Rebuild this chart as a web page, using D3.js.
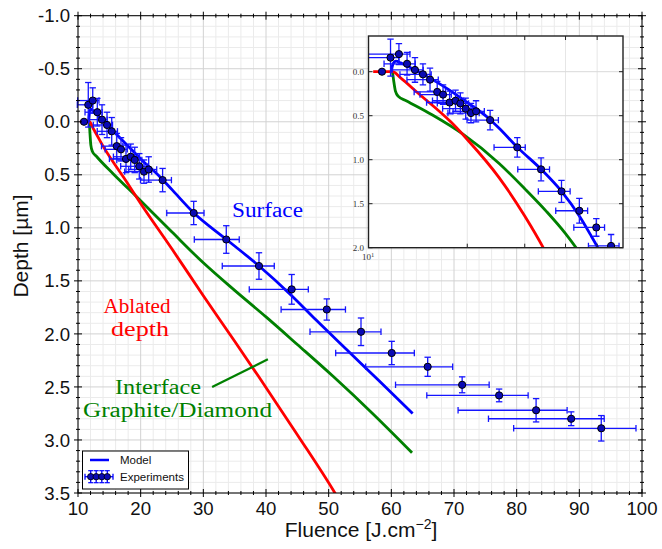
<!DOCTYPE html>
<html>
<head>
<meta charset="utf-8">
<script src="https://cdn.jsdelivr.net/npm/d3@7/dist/d3.min.js"></script>
<style>
  body { margin: 0; background: #fff; }
  svg { display: block; }
</style>
</head>
<body>
<svg id="chart" width="662" height="549"></svg>
<script>
// ---- Experimental points: fluence [J/cm2], depth [um] and their uncertainties ----
const fluence = [10.96, 11.64, 12.35, 13.08, 13.83, 14.63, 15.38, 16.18, 16.86, 17.66,
                 18.41, 19.05, 19.78, 20.53, 21.28, 23.5, 28.46, 33.66, 38.88, 44.1,
                 49.7, 55.16, 60.06, 65.8, 71.3, 77.2, 83.1, 88.7, 93.5];
const depth = [0.0, -0.16, -0.20, -0.09, -0.02, 0.03, 0.09, 0.23, 0.26, 0.35,
               0.33, 0.36, 0.42, 0.47, 0.45, 0.55, 0.86, 1.11, 1.36, 1.58,
               1.77, 1.98, 2.18, 2.31, 2.48, 2.58, 2.72, 2.80, 2.89];
const depthErr = [0, 0.21, 0.12, 0.13, 0.14, 0.12, 0.13, 0.12, 0.11, 0.13,
                  0.12, 0.12, 0.12, 0.11, 0.12, 0.11, 0.11, 0.13, 0.125, 0.14,
                  0.10, 0.13, 0.11, 0.09, 0.075, 0.06, 0.11, 0.065, 0.12];
const fluenceErrLow = [0, 1.75, 2.4, 1.96, 2.07, 2.19, 2.31, 2.43, 2.53, 2.65,
                       2.76, 2.86, 2.97, 3.08, 3.19, 3.53, 4.3, 5.1, 5.86, 6.77,
                       7.29, 8.14, 8.94, 9.89, 10.63, 11.54, 12.45, 13.2, 13.98];
const fluenceErrHigh = [0, 0.70, 1.0, 0.78, 0.83, 0.88, 0.92, 0.97, 1.01, 1.06,
                        1.10, 1.14, 1.19, 1.23, 1.28, 1.41, 1.65, 2.07, 2.44, 2.65,
                        2.98, 3.19, 3.61, 3.99, 4.31, 4.63, 4.95, 5.27, 5.54];

// ---- Model curves, sampled as [fluence, depth] ----
const surfaceModel = [[11.7, 0.0], [11.8, -0.07], [11.95, -0.11], [12.1, -0.12], [12.5, -0.10],
                      [13.5, -0.04], [15, 0.05], [17.5, 0.20], [20, 0.35], [23.1, 0.52],
                      [25, 0.64], [28.5, 0.86], [33.7, 1.11], [38.9, 1.36], [44.1, 1.64],
                      [48, 1.87], [52.9, 2.15], [58, 2.44], [63.4, 2.75]];
const ablatedModel = [[10.3, 0.0], [11.0, 0.0], [11.8, 0.0], [12.5, 0.07], [14, 0.23],
                      [17.8, 0.57], [20, 0.77], [25, 1.2], [30, 1.64], [35, 2.07],
                      [38.8, 2.40], [45, 2.95], [51, 3.5], [52, 3.6]];
const interfaceModel = [[11.8, 0.0], [11.9, 0.10], [12.05, 0.22], [12.3, 0.28], [13, 0.33],
                        [15.6, 0.49], [19.4, 0.71], [25, 1.04], [30, 1.33], [35, 1.59],
                        [40, 1.84], [45, 2.10], [50.7, 2.40], [57, 2.75], [63.3, 3.12]];

// ---- Axis ticks and labels ----
const xTicks = [10, 20, 30, 40, 50, 60, 70, 80, 90, 100];
const xTickLabels = ["10", "20", "30", "40", "50", "60", "70", "80", "90", "100"];
const yTicks = [-1, -0.5, 0, 0.5, 1, 1.5, 2, 2.5, 3, 3.5];
const yTickLabels = ["-1.0", "-0.5", "0.0", "0.5", "1.0", "1.5", "2.0", "2.5", "3.0", "3.5"];
const insetXTicks = [20, 30, 40, 50];
const insetYTicks = [0, 0.5, 1, 1.5, 2];
const insetYTickLabels = ["0.0", "0.5", "1.0", "1.5", "2.0"];

const BLUE = "#0000ff", RED = "#ff0000", GREEN = "#008000";
const SANS = "'Liberation Sans', Arial, Helvetica, sans-serif";
const SERIF = "'Liberation Serif', 'Times New Roman', serif";

const svg = d3.select("#chart");
const P = { left: 78, right: 642, top: 15.7, bottom: 493 };
const x = d3.scaleLinear().domain([10, 100]).range([P.left, P.right]);
const y = d3.scaleLinear().domain([-1, 3.5]).range([P.top, P.bottom]);

const points = fluence.map((f, i) => ({
  f, d: depth[i], de: depthErr[i], lo: fluenceErrLow[i], hi: fluenceErrHigh[i]
}));

// ---- Main grid ----
const grid = svg.append("g");
grid.selectAll("line.vmin").data(d3.range(12, 100, 2).filter(v => v % 10 !== 0)).join("line")
  .attr("x1", d => x(d)).attr("x2", d => x(d)).attr("y1", P.top).attr("y2", P.bottom)
  .attr("stroke", "#ebebeb").attr("stroke-width", 1);
grid.selectAll("line.hmin").data(d3.range(-10, 36, 1).filter(v => v % 5 !== 0).map(v => v / 10)).join("line")
  .attr("x1", P.left).attr("x2", P.right).attr("y1", d => y(d)).attr("y2", d => y(d))
  .attr("stroke", "#ebebeb").attr("stroke-width", 1);
grid.selectAll("line.vmaj").data(xTicks).join("line")
  .attr("x1", d => x(d)).attr("x2", d => x(d)).attr("y1", P.top).attr("y2", P.bottom)
  .attr("stroke", "#d2d2d2").attr("stroke-width", 1);
grid.selectAll("line.hmaj").data(yTicks).join("line")
  .attr("x1", P.left).attr("x2", P.right).attr("y1", d => y(d)).attr("y2", d => y(d))
  .attr("stroke", "#d2d2d2").attr("stroke-width", 1);

// ---- Helpers for curves and error-bar points ----
function drawCurves(g, xs, ys) {
  const line = d3.line().x(d => xs(d[0])).y(d => ys(d[1])).curve(d3.curveMonotoneX);
  g.append("path").datum(interfaceModel).attr("d", line)
    .attr("fill", "none").attr("stroke", GREEN).attr("stroke-width", 2.8).attr("stroke-linejoin", "round");
  g.append("path").datum(ablatedModel).attr("d", line)
    .attr("fill", "none").attr("stroke", RED).attr("stroke-width", 2.8).attr("stroke-linejoin", "round");
  g.append("path").datum(surfaceModel).attr("d", line)
    .attr("fill", "none").attr("stroke", BLUE).attr("stroke-width", 2.8).attr("stroke-linejoin", "round");
}

function drawPoints(g, xs, ys, data) {
  const cap = 3.2;
  const eb = g.append("g").attr("stroke", "#1515ff").attr("stroke-width", 1.3).attr("fill", "none");
  data.filter(p => p.lo > 0 || p.hi > 0).forEach(p => {
    const cx = xs(p.f), cy = ys(p.d);
    const xl = xs(p.f - p.lo), xr = xs(p.f + p.hi);
    const yt = ys(p.d - p.de), yb = ys(p.d + p.de);
    eb.append("line").attr("x1", xl).attr("x2", xr).attr("y1", cy).attr("y2", cy);
    eb.append("line").attr("x1", xl).attr("x2", xl).attr("y1", cy - cap).attr("y2", cy + cap);
    eb.append("line").attr("x1", xr).attr("x2", xr).attr("y1", cy - cap).attr("y2", cy + cap);
    eb.append("line").attr("x1", cx).attr("x2", cx).attr("y1", yt).attr("y2", yb);
    eb.append("line").attr("x1", cx - cap).attr("x2", cx + cap).attr("y1", yt).attr("y2", yt);
    eb.append("line").attr("x1", cx - cap).attr("x2", cx + cap).attr("y1", yb).attr("y2", yb);
  });
  g.append("g").selectAll("circle").data(data).join("circle")
    .attr("cx", p => xs(p.f)).attr("cy", p => ys(p.d)).attr("r", 3.6)
    .attr("fill", "#0a0ab4").attr("stroke", "#000").attr("stroke-width", 1);
}

// ---- Main plot content ----
svg.append("clipPath").attr("id", "mainClip").append("rect")
  .attr("x", P.left).attr("y", P.top).attr("width", P.right - P.left).attr("height", P.bottom - P.top);
const mainCurves = svg.append("g").attr("clip-path", "url(#mainClip)");
drawCurves(mainCurves, x, y);
drawPoints(svg.append("g"), x, y, points);

// pointer for the interface label
svg.append("line")
  .attr("x1", x(31.4)).attr("y1", y(2.50)).attr("x2", x(40.3)).attr("y2", y(2.24))
  .attr("stroke", GREEN).attr("stroke-width", 2.2);

// ---- Curve labels ----
function label(txt, cx, by, color, len) {
  svg.append("text").attr("x", cx).attr("y", by).attr("text-anchor", "middle")
    .attr("font-family", SERIF).attr("font-size", 20).attr("fill", color)
    .attr("textLength", len).attr("lengthAdjust", "spacingAndGlyphs").text(txt);
}
label("Surface", 267.5, 217, BLUE, 71);
label("Ablated", 137, 312.5, RED, 67);
label("depth", 140, 336, RED, 58);
label("Interface", 158, 393.5, GREEN, 86);
label("Graphite/Diamond", 177.5, 417, GREEN, 189);

// ---- Main axes: frame, ticks, labels ----
const ax = svg.append("g").attr("stroke", "#000").attr("stroke-width", 1);
ax.append("rect").attr("x", P.left).attr("y", P.top).attr("width", P.right - P.left)
  .attr("height", P.bottom - P.top).attr("fill", "none");
const xMinor = d3.range(12, 100, 2).filter(v => v % 10 !== 0);
const yMinor = d3.range(-10, 36, 1).filter(v => v % 5 !== 0).map(v => v / 10);
[P.bottom, P.top].forEach(yy => {
  ax.selectAll(null).data(xTicks).join("line")
    .attr("x1", d => x(d)).attr("x2", d => x(d)).attr("y1", yy - 4).attr("y2", yy + 4);
  ax.selectAll(null).data(xMinor).join("line")
    .attr("x1", d => x(d)).attr("x2", d => x(d)).attr("y1", yy - 2).attr("y2", yy + 2);
});
[P.left, P.right].forEach(xx => {
  ax.selectAll(null).data(yTicks).join("line")
    .attr("x1", xx - 4).attr("x2", xx + 4).attr("y1", d => y(d)).attr("y2", d => y(d));
  ax.selectAll(null).data(yMinor).join("line")
    .attr("x1", xx - 2).attr("x2", xx + 2).attr("y1", d => y(d)).attr("y2", d => y(d));
});

svg.append("g").selectAll("text").data(xTicks).join("text")
  .attr("x", d => x(d)).attr("y", 515).attr("text-anchor", "middle")
  .attr("font-family", SANS).attr("font-size", 18.6).attr("fill", "#111")
  .text((d, i) => xTickLabels[i]);
svg.append("g").selectAll("text").data(yTicks).join("text")
  .attr("x", 70).attr("y", d => y(d) + 6.6).attr("text-anchor", "end")
  .attr("font-family", SANS).attr("font-size", 18.6).attr("fill", "#111")
  .text((d, i) => yTickLabels[i]);

svg.append("text").attr("transform", "translate(28,246) rotate(-90)")
  .attr("text-anchor", "middle").attr("font-family", SANS).attr("font-size", 21).attr("fill", "#111")
  .text("Depth [µm]");
const xt = svg.append("text").attr("x", 361).attr("y", 537).attr("text-anchor", "middle")
  .attr("font-family", SANS).attr("font-size", 21).attr("fill", "#111");
xt.append("tspan").text("Fluence [J.cm");
xt.append("tspan").attr("dy", -8).attr("font-size", 14).text("\u22122");
xt.append("tspan").attr("dy", 8).text("]");

// ---- Legend ----
const lg = svg.append("g");
lg.append("rect").attr("x", 82.5).attr("y", 451).attr("width", 106).attr("height", 38)
  .attr("fill", "#fff").attr("stroke", "#000").attr("stroke-width", 1);
lg.append("line").attr("x1", 90).attr("x2", 109).attr("y1", 460).attr("y2", 460)
  .attr("stroke", BLUE).attr("stroke-width", 2.5);
lg.append("text").attr("x", 120).attr("y", 464).attr("font-family", SANS).attr("font-size", 11.5)
  .attr("fill", "#111").text("Model");
const ly = 476.7;
lg.append("line").attr("x1", 85).attr("x2", 113).attr("y1", ly).attr("y2", ly)
  .attr("stroke", BLUE).attr("stroke-width", 1.3);
[85, 113].forEach(xx => lg.append("line").attr("x1", xx).attr("x2", xx)
  .attr("y1", ly - 3).attr("y2", ly + 3).attr("stroke", BLUE).attr("stroke-width", 1.3));
[90.7, 96.2, 101.8, 107.3].forEach(xx => {
  lg.append("line").attr("x1", xx).attr("x2", xx).attr("y1", ly - 6).attr("y2", ly + 6)
    .attr("stroke", BLUE).attr("stroke-width", 1.3);
  lg.append("line").attr("x1", xx - 2.5).attr("x2", xx + 2.5).attr("y1", ly - 6).attr("y2", ly - 6)
    .attr("stroke", BLUE).attr("stroke-width", 1.2);
  lg.append("line").attr("x1", xx - 2.5).attr("x2", xx + 2.5).attr("y1", ly + 6).attr("y2", ly + 6)
    .attr("stroke", BLUE).attr("stroke-width", 1.2);
  lg.append("circle").attr("cx", xx).attr("cy", ly).attr("r", 3.2)
    .attr("fill", "#0a0ab4").attr("stroke", "#000").attr("stroke-width", 0.8);
});
lg.append("text").attr("x", 120).attr("y", 481).attr("font-family", SANS).attr("font-size", 11.5)
  .attr("fill", "#111").text("Experiments");

// ---- Inset: log fluence axis ----
const I = { left: 368.5, right: 623, top: 36, bottom: 247.7 };
const xi = d3.scaleLog().domain([10, 60]).range([369, 623]);
const yi = d3.scaleLinear().domain([-0.4, 2.0]).range([36.5, 247.7]);
const ins = svg.append("g");
ins.append("rect").attr("x", I.left).attr("y", I.top).attr("width", I.right - I.left)
  .attr("height", I.bottom - I.top).attr("fill", "#fff");
ins.selectAll("line.ig").data(insetXTicks).join("line")
  .attr("x1", d => xi(d)).attr("x2", d => xi(d)).attr("y1", I.top).attr("y2", I.bottom)
  .attr("stroke", "#e6e6e6").attr("stroke-width", 1);
ins.selectAll("line.ih").data(insetYTicks.slice(0, 4)).join("line")
  .attr("x1", I.left).attr("x2", I.right).attr("y1", d => yi(d)).attr("y2", d => yi(d))
  .attr("stroke", "#d9d9d9").attr("stroke-width", 1);

svg.append("clipPath").attr("id", "insetClip").append("rect")
  .attr("x", I.left).attr("y", I.top).attr("width", I.right - I.left).attr("height", I.bottom - I.top);
const insClip = ins.append("g").attr("clip-path", "url(#insetClip)");
drawCurves(insClip, xi, yi);
drawPoints(insClip, xi, yi, points.filter(p => p.f < 60));

const iax = ins.append("g").attr("stroke", "#222").attr("stroke-width", 1.4);
iax.append("rect").attr("x", I.left).attr("y", I.top).attr("width", I.right - I.left)
  .attr("height", I.bottom - I.top).attr("fill", "none");
insetXTicks.forEach(v => {
  iax.append("line").attr("x1", xi(v)).attr("x2", xi(v)).attr("y1", I.bottom).attr("y2", I.bottom - 4).attr("stroke-width", 1);
  iax.append("line").attr("x1", xi(v)).attr("x2", xi(v)).attr("y1", I.top).attr("y2", I.top + 4).attr("stroke-width", 1);
});
insetYTicks.forEach(v => {
  iax.append("line").attr("x1", I.left).attr("x2", I.left + 4).attr("y1", yi(v)).attr("y2", yi(v)).attr("stroke-width", 1);
  iax.append("line").attr("x1", I.right).attr("x2", I.right - 4).attr("y1", yi(v)).attr("y2", yi(v)).attr("stroke-width", 1);
});
ins.selectAll("text.iy").data(insetYTicks).join("text")
  .attr("x", 364).attr("y", d => yi(d) + 3).attr("text-anchor", "end")
  .attr("font-family", SERIF).attr("font-size", 9).attr("fill", "#333")
  .text((d, i) => insetYTickLabels[i]);
const t10 = ins.append("text").attr("x", 362).attr("y", 260)
  .attr("font-family", SERIF).attr("font-size", 9).attr("fill", "#333");
t10.append("tspan").text("10");
t10.append("tspan").attr("dy", -3.5).attr("font-size", 6.5).text("1");
</script>
</body>
</html>
